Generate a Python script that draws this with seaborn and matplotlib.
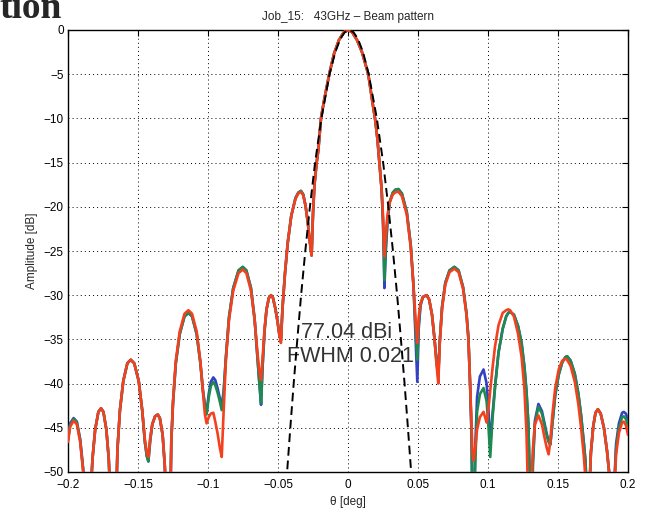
import matplotlib
matplotlib.use("Agg")
import matplotlib.pyplot as plt
import pandas as pd
import seaborn as sns

# ---------------- data ----------------
THETA = [
    -0.2000, -0.1985, -0.1960, -0.1937, -0.1913, -0.1892, -0.1876, -0.1858,
    -0.1840, -0.1825, -0.1806, -0.1783, -0.1764, -0.1747, -0.1726, -0.1709, -0.1697, -0.1672,
    -0.1660, -0.1647, -0.1629, -0.1605, -0.1576, -0.1552, -0.1527, -0.1495, -0.1470, -0.1451, -0.1437, -0.1426,
    -0.1413, -0.1398, -0.1378, -0.1359, -0.1344, -0.1324, -0.1309, -0.1297, -0.1278,
    -0.1272, -0.1262, -0.1250, -0.1230, -0.1202, -0.1168, -0.1140, -0.1114, -0.1081, -0.1055, -0.1036, -0.1022, -0.1010,
    -0.0995, -0.0980, -0.0962, -0.0948, -0.0932, -0.0916, -0.0902,
    -0.0888, -0.0872, -0.0850, -0.0820, -0.0782, -0.0752, -0.0726, -0.0693, -0.0667, -0.0647, -0.0633, -0.0621,
    -0.0610, -0.0596, -0.0582, -0.0565, -0.0550, -0.0536, -0.0519, -0.0503, -0.0490, -0.0479,
    -0.0468, -0.0450, -0.0430, -0.0405, -0.0375, -0.0355, -0.0336, -0.0320, -0.0303, -0.0287, -0.0273, -0.0260,
    -0.0250, -0.0240, -0.0224, -0.0212, -0.0193, -0.0170, -0.0134, -0.0100, -0.0065, -0.0030,
    0.0000, 0.0030, 0.0065, 0.0100, 0.0145, 0.0175, 0.0193, 0.0210, 0.0224, 0.0240, 0.0250, 0.0255, 0.0260,
    0.0270, 0.0282, 0.0298, 0.0320, 0.0340, 0.0360, 0.0385, 0.0420, 0.0448, 0.0468, 0.0482, 0.0495,
    0.0505, 0.0518, 0.0535, 0.0562, 0.0580, 0.0600, 0.0617, 0.0632, 0.0645,
    0.0655, 0.0672, 0.0695, 0.0725, 0.0760, 0.0790, 0.0822, 0.0846, 0.0860, 0.0872, 0.0882, 0.0890, 0.0897,
    0.0907, 0.0922, 0.0942, 0.0968, 0.0990, 0.1002, 0.1016, 0.1032, 0.1050, 0.1075, 0.1105, 0.1130, 0.1145, 0.1158,
    0.1185, 0.1215, 0.1240, 0.1260, 0.1275, 0.1288, 0.1300, 0.1310,
    0.1320, 0.1335, 0.1360, 0.1385, 0.1405, 0.1420, 0.1433, 0.1445,
    0.1460, 0.1480, 0.1505, 0.1530, 0.1553, 0.1565, 0.1590, 0.1620, 0.1645, 0.1665, 0.1685, 0.1697, 0.1705, 0.1712,
    0.1722, 0.1735, 0.1752, 0.1768, 0.1785, 0.1805, 0.1828, 0.1850, 0.1868, 0.1882, 0.1893,
    0.1903, 0.1915, 0.1935, 0.1958, 0.1970, 0.1985, 0.2000,
]

RED = [
    -46.6, -44.9, -44.2, -44.6, -46.6, -49.9, -54.5, -75,
    -53.0, -48.5, -45.2, -43.2, -42.8, -43.2, -45.2, -48.5, -53.0, -75,
    -56.0, -47.5, -43.0, -39.7, -37.7, -37.3, -37.7, -39.7, -43.0, -46.3, -47.8, -48.3,
    -46.2, -44.6, -43.7, -43.5, -43.9, -45.8, -49.2, -53.5, -75,
    -56.0, -46.5, -42.0, -37.4, -34.1, -32.1, -31.7, -32.1, -34.1, -37.4, -41.0, -43.5, -44.5,
    -43.8, -43.4, -43.3, -44.3, -45.6, -47.2, -48.3,
    -43.0, -37.3, -32.8, -29.5, -27.5, -27.1, -27.5, -29.5, -32.8, -36.5, -38.6, -39.6,
    -37.0, -33.8, -31.6, -30.3, -30.0, -30.3, -31.5, -33.0, -34.5, -35.4,
    -31.5, -27.5, -24.0, -21.0, -19.1, -18.5, -18.3, -18.7, -19.9, -21.8, -23.9, -25.5,
    -20.8, -17.6, -15.0, -13.6, -10.0, -7.9, -5.0, -2.7, -1.15, -0.25,
    0.0, -0.25, -1.15, -2.5, -5.0, -8.2, -10.0, -12.3, -15.0, -18.0, -21.0, -23.5, -25.6,
    -23.0, -20.9, -19.5, -18.6, -18.35, -18.3, -18.8, -20.9, -24.6, -29.0, -32.6, -35.4,
    -32.5, -30.9, -30.2, -30.0, -30.5, -32.2, -34.8, -37.8, -40.0,
    -35.6, -31.5, -28.8, -27.4, -27.0, -27.4, -29.3, -32.2, -35.0, -40.0, -44.5, -48.0, -48.7,
    -47.5, -45.2, -43.8, -43.2, -44.4, -43.0, -40.8, -38.3, -35.8, -33.4, -32.0, -31.7, -31.6, -31.7,
    -32.4, -34.4, -37.0, -40.6, -45.6, -53.6, -75, -51.5,
    -47.5, -44.6, -43.6, -44.6, -46.2, -47.3, -48.0, -46.5,
    -43.5, -40.5, -38.4, -37.4, -37.2, -37.3, -38.0, -39.8, -42.3, -45.0, -48.3, -51.0, -75, -60,
    -53, -47.8, -44.8, -43.3, -42.9, -43.4, -45.0, -47.6, -50.5, -56, -75,
    -52, -48, -45.6, -44.4, -44.3, -44.7, -45.8,
]

GREEN = [
    -46.4, -44.7, -44.0, -44.4, -46.4, -49.7, -54.3, -75,
    -53.0, -48.5, -45.2, -43.2, -42.8, -43.2, -45.2, -48.5, -53.0, -75,
    -56.0, -47.5, -43.0, -39.7, -37.7, -37.3, -37.7, -39.7, -43.0, -46.6, -48.2, -48.8,
    -46.5, -44.6, -43.7, -43.5, -43.9, -45.8, -49.2, -53.5, -75,
    -56.0, -46.5, -42.2, -37.7, -34.4, -32.4, -32.0, -32.4, -34.4, -37.6, -40.8, -42.6, -43.5,
    -41.6, -40.3, -39.8, -40.2, -41.0, -42.0, -43.0,
    -41.0, -37.0, -32.5, -29.2, -27.2, -26.8, -27.2, -29.2, -32.7, -37.0, -40.0, -42.2,
    -38.0, -34.0, -31.6, -30.3, -30.0, -30.3, -31.5, -33.0, -34.5, -35.1,
    -31.5, -27.5, -24.0, -21.0, -19.0, -18.4, -18.2, -18.6, -19.9, -21.8, -23.9, -25.5,
    -20.8, -17.6, -15.0, -13.6, -10.0, -7.9, -5.0, -2.7, -1.15, -0.25,
    0.0, -0.25, -1.15, -2.5, -5.0, -8.2, -10.0, -12.3, -15.0, -18.0, -21.5, -24.5, -28.3,
    -24.5, -21.5, -19.4, -18.4, -18.05, -18.0, -18.5, -20.6, -24.3, -29.0, -33.5, -37.3,
    -33.2, -31.0, -30.2, -30.0, -30.5, -32.2, -34.8, -37.5, -39.3,
    -35.4, -31.3, -28.6, -27.2, -26.8, -27.2, -29.1, -32.0, -34.8, -40.0, -45.5, -56.0, -75,
    -50.0, -43.2, -41.2, -40.5, -42.0, -44.5, -48.3, -44.0, -40.5, -36.5, -33.8, -32.4, -32.0, -31.9,
    -32.2, -33.5, -35.4, -38.1, -40.9, -44.5, -51.4, -75,
    -49.5, -44.6, -42.6, -43.4, -44.8, -45.9, -46.6, -46.9,
    -44.5, -41.3, -39.0, -37.6, -37.0, -36.9, -37.4, -38.9, -41.1, -43.6, -46.8, -48.9, -53.0, -75,
    -53, -47.8, -44.8, -43.3, -42.9, -43.4, -45.0, -47.6, -50.5, -56, -75,
    -51.5, -47.3, -45.0, -43.8, -43.7, -44.0, -44.8,
]

BLUE = [
    -46.2, -44.5, -43.9, -44.3, -46.3, -49.6, -54.2, -75,
    -53.0, -48.5, -45.2, -43.2, -42.8, -43.2, -45.2, -48.5, -53.0, -75,
    -56.0, -47.5, -43.0, -39.7, -37.7, -37.3, -37.7, -39.7, -43.0, -46.6, -48.2, -48.8,
    -46.4, -44.6, -43.7, -43.5, -43.9, -45.8, -49.2, -53.5, -75,
    -56.0, -46.5, -42.2, -37.7, -34.4, -32.4, -32.0, -32.4, -34.4, -37.6, -40.8, -42.4, -43.3,
    -41.2, -39.8, -39.3, -39.6, -40.5, -41.6, -42.6,
    -40.8, -37.0, -32.5, -29.2, -27.2, -26.8, -27.2, -29.2, -32.7, -37.0, -40.0, -42.4,
    -38.0, -34.0, -31.6, -30.3, -30.0, -30.3, -31.5, -33.0, -34.5, -35.1,
    -31.5, -27.5, -24.0, -21.0, -19.0, -18.4, -18.2, -18.6, -19.9, -21.8, -23.9, -25.5,
    -20.8, -17.6, -15.0, -13.6, -10.0, -7.9, -5.0, -2.7, -1.15, -0.25,
    0.0, -0.25, -1.15, -2.5, -5.0, -8.2, -10.0, -12.3, -15.0, -18.0, -21.8, -25.0, -29.2,
    -25.0, -21.8, -19.5, -18.4, -18.05, -18.0, -18.5, -20.6, -24.3, -29.0, -34.5, -39.8,
    -33.8, -31.2, -30.2, -30.0, -30.5, -32.2, -34.8, -37.3, -39.0,
    -35.3, -31.3, -28.6, -27.2, -26.8, -27.2, -29.1, -32.0, -34.8, -40.0, -45.5, -56.0, -75,
    -48.0, -41.5, -39.2, -38.4, -40.0, -42.5, -47.0, -43.5, -40.3, -36.5, -33.8, -32.4, -32.0, -31.9,
    -32.2, -33.5, -35.4, -38.1, -40.9, -44.5, -51.4, -75,
    -49.0, -44.2, -42.3, -43.1, -44.6, -45.7, -46.5, -46.9,
    -44.5, -41.3, -39.0, -37.6, -37.0, -36.9, -37.4, -38.9, -41.1, -43.6, -46.8, -48.9, -53.0, -75,
    -53, -47.8, -44.8, -43.3, -42.9, -43.4, -45.0, -47.6, -50.5, -56, -75,
    -51, -46.8, -44.5, -43.3, -43.2, -43.4, -44.1,
]

# Gaussian fit of the main beam (dashed)
GAUSS_THETA = [-0.0456, -0.0435, -0.0412, -0.0388, -0.0362, -0.0335, -0.0305, -0.0272,
               -0.0235, -0.0190, -0.0132, -0.0091, -0.0055, -0.0023, 0.0008, 0.0039,
               0.0071, 0.0107, 0.0148, 0.0206, 0.0251, 0.0288, 0.0321, 0.0351,
               0.0378, 0.0404, 0.0428, 0.0451, 0.0472]
GAUSS_AMP = [-55, -50, -45, -40, -35, -30, -25, -20,
             -15, -10, -5, -2.5, -1, -0.25, 0, -0.25,
             -1, -2.5, -5, -10, -15, -20, -25, -30,
             -35, -40, -45, -50, -55]

XTICKS = [-0.2, -0.15, -0.1, -0.05, 0, 0.05, 0.1, 0.15, 0.2]
XTICK_LABELS = ["\u22120.2", "\u22120.15", "\u22120.1", "\u22120.05", "0",
                "0.05", "0.1", "0.15", "0.2"]
YTICKS = [0, -5, -10, -15, -20, -25, -30, -35, -40, -45, -50]
YTICK_LABELS = ["0", "\u22125", "\u221210", "\u221215", "\u221220", "\u221225",
                "\u221230", "\u221235", "\u221240", "\u221245", "\u221250"]

TITLE = "Job_15:   43GHz \u2013 Beam pattern"
XLABEL = "\u03b8 [deg]"
YLABEL = "Amplitude [dB]"
GAIN_TEXT = "77.04 dBi"
FWHM_TEXT = "FWHM 0.021"
HEADING_FRAGMENT = "tion"

# ---------------- drawing ----------------
sns.set_style("white")
plt.rcParams['font.family'] = ['Liberation Sans', 'DejaVu Sans']

fig = plt.figure(figsize=(6.5, 5.09), dpi=100)
ax = fig.add_axes([68 / 650, 1 - 472 / 509, 560 / 650, 442 / 509])

df = pd.DataFrame({"theta": THETA, "blue": BLUE, "green": GREEN, "red": RED})
styles = [("blue", "#3342c4"), ("green", "#1f8a50"), ("red", "#f5401f")]
for col, colr in styles:
    sns.lineplot(data=df, x="theta", y=col, ax=ax, color=colr, linewidth=1.9,
                 estimator=None, sort=False, zorder=3)

sns.lineplot(x=GAUSS_THETA, y=GAUSS_AMP, ax=ax, color="black", linewidth=1.4,
             linestyle=(0, (4.5, 2.5)), estimator=None, sort=False, zorder=4)

ax.set_xlim(-0.2, 0.2)
ax.set_ylim(-50, 0)
ax.set_xticks(XTICKS)
ax.set_xticklabels(XTICK_LABELS)
ax.set_yticks(YTICKS)
ax.set_yticklabels(YTICK_LABELS)
ax.tick_params(direction="in", length=4, width=0.8, top=True, right=True,
               labelsize=8.5, colors="black", pad=3)
ax.tick_params(axis="x", pad=5)
ax.grid(True, color="black", linestyle=(0, (1, 3.2)), linewidth=0.7)
for s in ax.spines.values():
    s.set_visible(True)
    s.set_color("black")
    s.set_linewidth(1.0)

ax.set_xlabel(XLABEL, fontsize=8.5, labelpad=4)
ax.set_ylabel(YLABEL, fontsize=8.5, labelpad=4)
ax.set_title(TITLE, fontsize=8.5, pad=7)

ax.text(-0.001, -34.8, GAIN_TEXT, ha="center", va="baseline", fontsize=15.5,
        color="#333333", zorder=2)
ax.text(0.0015, -37.5, FWHM_TEXT, ha="center", va="baseline", fontsize=15.5,
        color="#333333", zorder=2)

fig.text(-1 / 650, 1 - 18 / 509, HEADING_FRAGMENT, fontsize=27, fontweight="bold",
         family=["Liberation Serif", "DejaVu Serif"], ha="left", va="baseline")

fig.savefig("out.png", dpi=100)
